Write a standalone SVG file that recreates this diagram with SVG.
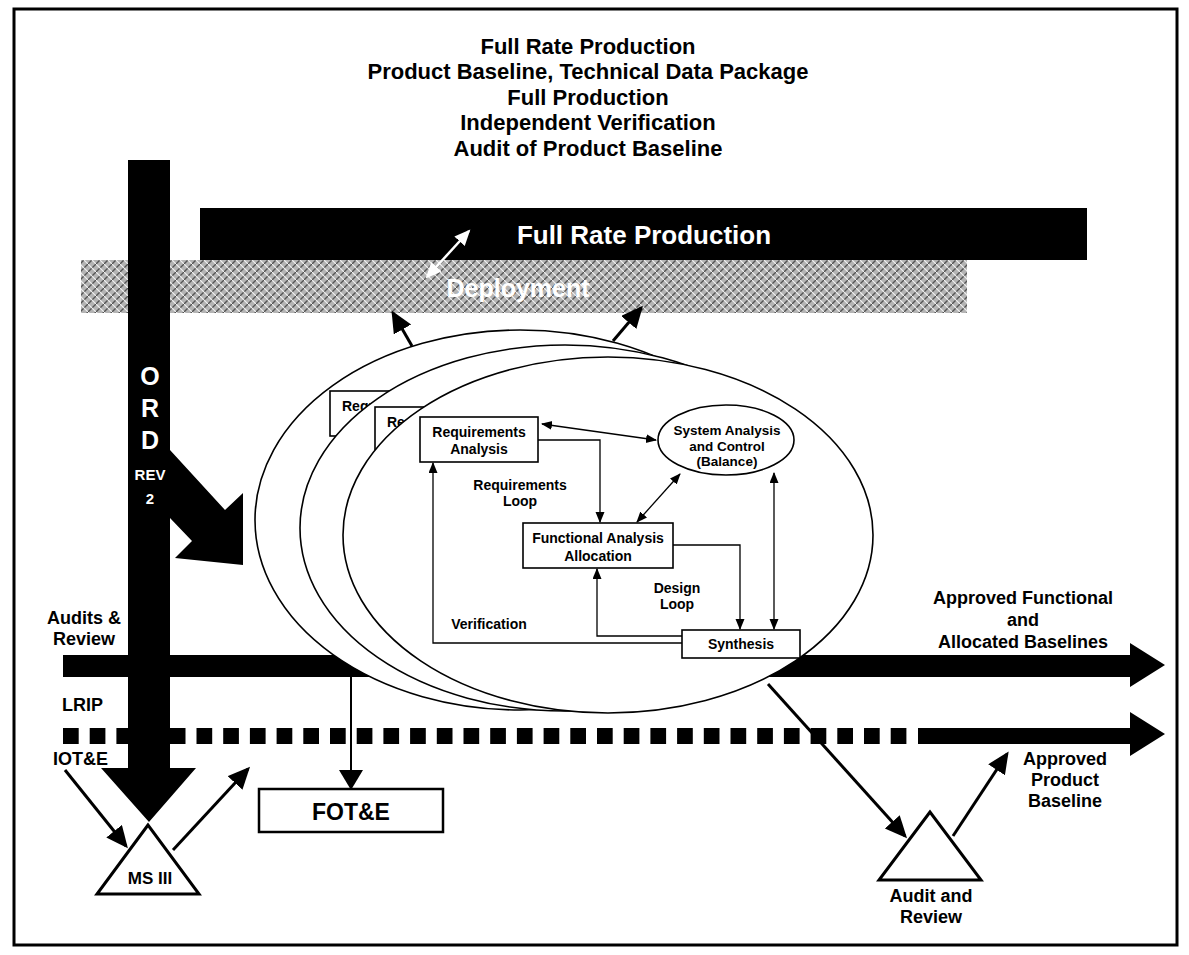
<svg xmlns="http://www.w3.org/2000/svg" width="1189" height="955" viewBox="0 0 1189 955">
<style>
.t{font-family:"Liberation Sans",Arial,Helvetica,sans-serif;font-weight:bold;fill:#000;text-anchor:middle}
.s{text-anchor:start}
.w{fill:#fff}
.thin{fill:none;stroke:#000;stroke-width:1.3}
.big{fill:none;stroke:#000;stroke-width:3}
.box{fill:#fff;stroke:#000;stroke-width:1.6}
.ell{fill:#fff;stroke:#000;stroke-width:1.6}
</style>
<defs>
<pattern id="stip" width="8" height="8" patternUnits="userSpaceOnUse">
<rect width="8" height="8" fill="#b4b4b4"/>
<path d="M0,8 L8,0 M-2,2 L2,-2 M6,10 L10,6" stroke="#555" stroke-width="1.4"/>
<path d="M0,0 L8,8" stroke="#f2f2f2" stroke-width="1.1"/>
</pattern>
<marker id="sm" markerUnits="userSpaceOnUse" markerWidth="12" markerHeight="10" refX="10" refY="4.5" orient="auto-start-reverse">
<path d="M0,0 L11,4.5 L0,9 z" fill="#000"/>
</marker>
<marker id="bg" markerUnits="userSpaceOnUse" markerWidth="24" markerHeight="22" refX="19" refY="10" orient="auto">
<path d="M0,0 L22,10 L0,20 z" fill="#000"/>
</marker>
<marker id="md" markerUnits="userSpaceOnUse" markerWidth="22" markerHeight="26" refX="18" refY="12" orient="auto">
<path d="M0,0 L20,12 L0,24 z" fill="#000"/>
</marker>
<marker id="wh" markerUnits="userSpaceOnUse" markerWidth="18" markerHeight="16" refX="14" refY="7" orient="auto-start-reverse">
<path d="M0,0 L16,7 L0,14 z" fill="#fff"/>
</marker>
</defs>
<rect x="14" y="9" width="1163" height="936" fill="#fff" stroke="#000" stroke-width="3"/>

<g id="title">
<text class="t" x="588" y="54" font-size="22">Full Rate Production</text>
<text class="t" x="588" y="79" font-size="22">Product Baseline, Technical Data Package</text>
<text class="t" x="588" y="105" font-size="22">Full Production</text>
<text class="t" x="588" y="130" font-size="22">Independent Verification</text>
<text class="t" x="588" y="156" font-size="22">Audit of Product Baseline</text>
</g>

<g id="full-rate-production">
<rect x="200" y="208" width="887" height="52" fill="#000"/>
<text class="t w" x="644" y="244" font-size="26">Full Rate Production</text>
</g>

<g id="deployment">
<rect x="81" y="260" width="886" height="53" fill="url(#stip)"/>
<text class="t w" x="518" y="297" font-size="25">Deployment</text>
</g>

<g id="ord">
<polygon points="128,160 170,160 170,768 196,768 149,822 101,768 128,768" fill="#000"/>
<polygon points="170,450 225,510 243,493 243,565 175,558 192,541 170,518" fill="#000"/>
<text class="t w" x="150" y="385" font-size="25">O</text>
<text class="t w" x="150" y="417" font-size="25">R</text>
<text class="t w" x="150" y="449" font-size="25">D</text>
<text class="t w" x="150" y="480" font-size="15">REV</text>
<text class="t w" x="150" y="504" font-size="15">2</text>
</g>

<g id="audits-review-bar">
<polygon points="63,655 1130,655 1130,643 1165,665 1130,687 1130,677 63,677" fill="#000"/>
</g>

<g id="lrip-bar">
<line x1="63" y1="736" x2="907" y2="736" stroke="#000" stroke-width="16" stroke-dasharray="15.7 11"/>
<polygon points="918,728 1130,728 1130,712 1165,734 1130,756 1130,744 918,744" fill="#000"/>
</g>

<g id="connectors">
<line x1="427" y1="277" x2="469" y2="231" stroke="#fff" stroke-width="2.5" marker-start="url(#wh)" marker-end="url(#wh)"/>
<line class="big" x1="412" y1="346" x2="393" y2="313" marker-end="url(#bg)"/>
<line class="big" x1="613" y1="341" x2="641" y2="308" marker-end="url(#bg)"/>
</g>

<g id="ellipse-1">
<ellipse class="ell" cx="520" cy="520" rx="265" ry="190"/>
<rect class="box" x="330" y="391" width="118" height="45"/>
<text class="t s" x="342" y="411" font-size="14">Requ</text>
</g>
<g id="ellipse-2">
<ellipse class="ell" cx="565" cy="528" rx="265" ry="183"/>
<rect class="box" x="375" y="407" width="118" height="45"/>
<text class="t s" x="387" y="427" font-size="14">Re</text>
</g>
<g id="ellipse-3">
<ellipse class="ell" cx="608" cy="535" rx="265" ry="178"/>
</g>

<g id="requirements-analysis">
<rect class="box" x="420" y="417" width="118" height="45"/>
<text class="t" x="479" y="437" font-size="14">Requirements</text>
<text class="t" x="479" y="454" font-size="14">Analysis</text>
</g>
<g id="system-analysis">
<ellipse class="box" cx="726" cy="440" rx="68" ry="35"/>
<text class="t" x="727" y="435" font-size="13.5">System Analysis</text>
<text class="t" x="727" y="451" font-size="13.5">and Control</text>
<text class="t" x="727" y="466" font-size="13.5">(Balance)</text>
</g>
<g id="functional-analysis">
<rect class="box" x="523" y="523" width="150" height="45"/>
<text class="t" x="598" y="543" font-size="14">Functional Analysis</text>
<text class="t" x="598" y="561" font-size="14">Allocation</text>
</g>
<g id="synthesis">
<rect class="box" x="682" y="630" width="118" height="28"/>
<text class="t" x="741" y="649" font-size="14">Synthesis</text>
</g>

<g id="inner-connectors">
<line class="thin" x1="542" y1="424" x2="656" y2="440" marker-start="url(#sm)" marker-end="url(#sm)"/>
<polyline class="thin" points="538,440 600,440 600,522" marker-end="url(#sm)"/>
<line class="thin" x1="680" y1="474" x2="637" y2="522" marker-start="url(#sm)" marker-end="url(#sm)"/>
<polyline class="thin" points="673,545 740,545 740,629" marker-end="url(#sm)"/>
<line class="thin" x1="774" y1="473" x2="774" y2="629" marker-start="url(#sm)" marker-end="url(#sm)"/>
<polyline class="thin" points="682,636 597,636 597,569" marker-end="url(#sm)"/>
<polyline class="thin" points="682,643 433,643 433,463" marker-end="url(#sm)"/>
<text class="t" x="520" y="490" font-size="14">Requirements</text>
<text class="t" x="520" y="506" font-size="14">Loop</text>
<text class="t" x="677" y="593" font-size="14">Design</text>
<text class="t" x="677" y="609" font-size="14">Loop</text>
<text class="t" x="489" y="629" font-size="14">Verification</text>
</g>

<g id="outer-connectors">
<line x1="351" y1="677" x2="351" y2="788" stroke="#000" stroke-width="2" marker-end="url(#md)"/>
<line class="big" x1="768" y1="684" x2="905" y2="836" marker-end="url(#bg)"/>
<line class="big" x1="953" y1="836" x2="1007" y2="754" marker-end="url(#bg)"/>
<line class="big" x1="65" y1="770" x2="126" y2="846" marker-end="url(#bg)"/>
<line class="big" x1="173" y1="850" x2="248" y2="769" marker-end="url(#bg)"/>
</g>

<g id="labels">
<text class="t" x="84" y="624" font-size="18">Audits &amp;</text>
<text class="t" x="84" y="645" font-size="18">Review</text>
<text class="t s" x="62" y="711" font-size="18">LRIP</text>
<text class="t s" x="53" y="765" font-size="18">IOT&amp;E</text>
<text class="t" x="1023" y="604" font-size="18">Approved Functional</text>
<text class="t" x="1023" y="626" font-size="18">and</text>
<text class="t" x="1023" y="648" font-size="18">Allocated Baselines</text>
<text class="t" x="1065" y="765" font-size="18">Approved</text>
<text class="t" x="1065" y="786" font-size="18">Product</text>
<text class="t" x="1065" y="807" font-size="18">Baseline</text>
</g>

<g id="fote">
<rect x="259" y="789" width="184" height="43" fill="#fff" stroke="#000" stroke-width="2.5"/>
<text class="t" x="351" y="820" font-size="23">FOT&amp;E</text>
</g>

<g id="ms-iii">
<polygon points="148,825 97,894 199,894" fill="#fff" stroke="#000" stroke-width="3"/>
<text class="t" x="150" y="884" font-size="17">MS III</text>
</g>

<g id="audit-review">
<polygon points="930,812 879,880 981,880" fill="#fff" stroke="#000" stroke-width="3"/>
<text class="t" x="931" y="902" font-size="18">Audit and</text>
<text class="t" x="931" y="923" font-size="18">Review</text>
</g>
</svg>
